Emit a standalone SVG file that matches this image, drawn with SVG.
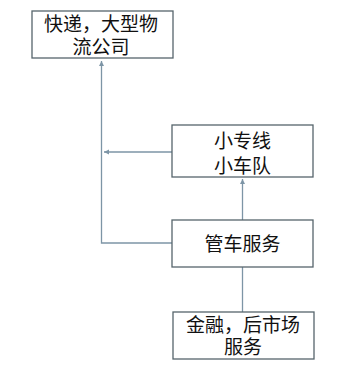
<svg xmlns="http://www.w3.org/2000/svg" width="355" height="369" viewBox="0 0 355 369">
<defs>
<style>
.box{fill:#fff;stroke:#56656c;stroke-width:1.3}
.t{font-family:"Liberation Sans","Noto Sans CJK SC",sans-serif;font-size:19px;fill:#111;text-anchor:middle}
.c{fill:none;stroke:#7d95a6;stroke-width:1.3}
</style>
<marker id="a" markerWidth="6" markerHeight="6" refX="5" refY="3" orient="auto" markerUnits="userSpaceOnUse">
<path d="M0,0.5 L5,3 L0,5.5 Z" fill="#7d95a6"/>
</marker>
</defs>
<rect width="355" height="369" fill="#fff"/>
<g id="connectors">
<path class="c" d="M172,243 H101.5 V61" marker-end="url(#a)"/>
<path class="c" d="M172,152 H104" marker-end="url(#a)"/>
<path class="c" d="M242.5,220 V179" marker-end="url(#a)"/>
<path class="c" d="M242.5,312 V267"/>
</g>
<g id="n1">
<rect class="box" x="32" y="11" width="141" height="47"/>
<text class="t" x="101" y="31">快递，大型物</text>
<text class="t" x="101" y="54">流公司</text>
</g>
<g id="n2">
<rect class="box" x="172" y="125" width="141" height="52"/>
<text class="t" x="242.5" y="148">小专线</text>
<text class="t" x="242.5" y="173">小车队</text>
</g>
<g id="n3">
<rect class="box" x="172" y="220" width="141" height="47"/>
<text class="t" x="242.5" y="251">管车服务</text>
</g>
<g id="n4">
<rect class="box" x="173" y="312" width="141" height="47"/>
<text class="t" x="243" y="332">金融，后市场</text>
<text class="t" x="243" y="354">服务</text>
</g>
</svg>
